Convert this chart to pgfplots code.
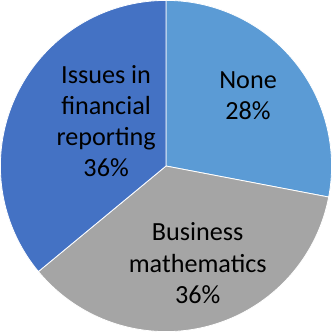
\documentclass[border=0pt]{standalone}
\usepackage{fontspec}
\setmainfont{Carlito}
\usepackage{pgfplots}
\pgfplotsset{compat=1.18}
\definecolor{cNone}{HTML}{5B9BD5}
\definecolor{cBus}{HTML}{A5A5A5}
\definecolor{cIss}{HTML}{4472C4}
% shares in percent
\def\pNone{28}
\def\pBus{36}
\def\pIss{36}
\tikzset{lbl/.style={font=\fontsize{26}{31}\selectfont, align=center, text=black}}
\begin{document}
\begin{tikzpicture}
\pgfmathsetmacro{\aA}{90}
\pgfmathsetmacro{\aB}{90-3.6*\pNone}
\pgfmathsetmacro{\aC}{\aB-3.6*\pBus}
\pgfmathsetmacro{\aD}{\aC-3.6*\pIss}
\begin{axis}[
  scale only axis, width=332pt, height=331pt,
  xmin=0, xmax=332, ymin=0, ymax=331,
  hide axis, clip=false,
]
\addplot[fill=cNone, draw=white, line width=0.8pt, domain=\aB:\aA, samples=80, variable=\t]
  ({166.5+164.5*cos(\t)},{164.5+164.5*sin(\t)}) -- (axis cs:166.5,164.5) -- cycle;
\addplot[fill=cBus, draw=white, line width=0.8pt, domain=\aC:\aB, samples=80, variable=\t]
  ({166.5+164.5*cos(\t)},{164.5+164.5*sin(\t)}) -- (axis cs:166.5,164.5) -- cycle;
\addplot[fill=cIss, draw=white, line width=0.8pt, domain=\aD:\aC, samples=80, variable=\t]
  ({166.5+164.5*cos(\t)},{164.5+164.5*sin(\t)}) -- (axis cs:166.5,164.5) -- cycle;
\node[lbl] at (axis cs:248,234) {None\\28\%};
\node[lbl] at (axis cs:198,68) {Business\\mathematics\\36\%};
\node[lbl] at (axis cs:107,209) {Issues in\\financial\\reporting\\36\%};
\end{axis}
\end{tikzpicture}
\end{document}
